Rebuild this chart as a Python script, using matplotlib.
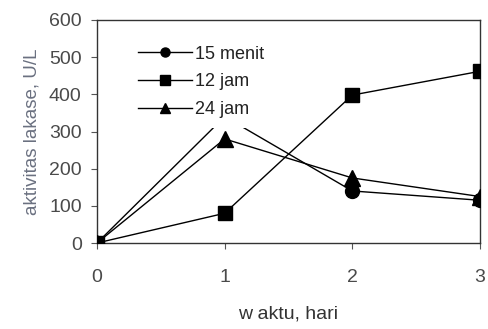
import matplotlib
matplotlib.use("Agg")
import matplotlib.pyplot as plt

days = [0, 1, 2, 3]
menit15 = [0, 340, 140, 115]
jam12 = [0, 80, 398, 462]
jam24 = [0, 280, 175, 125]
labels = ["15 menit", "12 jam", "24 jam"]
yticks = [0, 100, 200, 300, 400, 500, 600]

plt.rcParams['font.family'] = ['Liberation Sans', 'DejaVu Sans']
fig = plt.figure(figsize=(4.88, 3.29), dpi=100)
ax = fig.add_axes([97 / 488, 1 - 243 / 329, 383 / 488, 223 / 329])

tc = '#4a4a4a'
ax.plot(days, menit15, color='black', lw=1, marker='o', ms=10, label=labels[0], zorder=3)
ax.plot(days, jam12, color='black', lw=1, marker='s', ms=10, label=labels[1], zorder=3)
ax.plot(days, jam24, color='black', lw=1, marker='^', ms=11, label=labels[2], zorder=3)

ax.set_xlim(0, 3)
ax.set_ylim(0, 600)
ax.set_xticks(days)
ax.set_yticks(yticks)
ax.tick_params(axis='both', labelsize=14, labelcolor=tc, color='#555555', length=4, width=0.8)
ax.tick_params(axis='x', pad=15)
ax.tick_params(axis='y', pad=7)
for s in ax.spines.values():
    s.set_color('#333333')
    s.set_linewidth(1)
ax.set_xlabel("w aktu, hari", fontsize=14, color='#333333', labelpad=14)
ax.set_ylabel("aktivitas lakase, U/L", fontsize=13.5, color='#6a7080', labelpad=6)

leg = ax.legend(loc='upper left', bbox_to_anchor=(0.08, 0.93), frameon=True, fontsize=13,
                handlelength=3.0, handletextpad=0.2, labelspacing=0.6, borderpad=0.55,
                borderaxespad=0, markerscale=0.65)
leg.get_frame().set_facecolor('white')
leg.get_frame().set_edgecolor('none')
leg.get_frame().set_alpha(1)
leg.set_zorder(5)
for t in leg.get_texts():
    t.set_color('#222222')

fig.savefig("out.png", dpi=100)
